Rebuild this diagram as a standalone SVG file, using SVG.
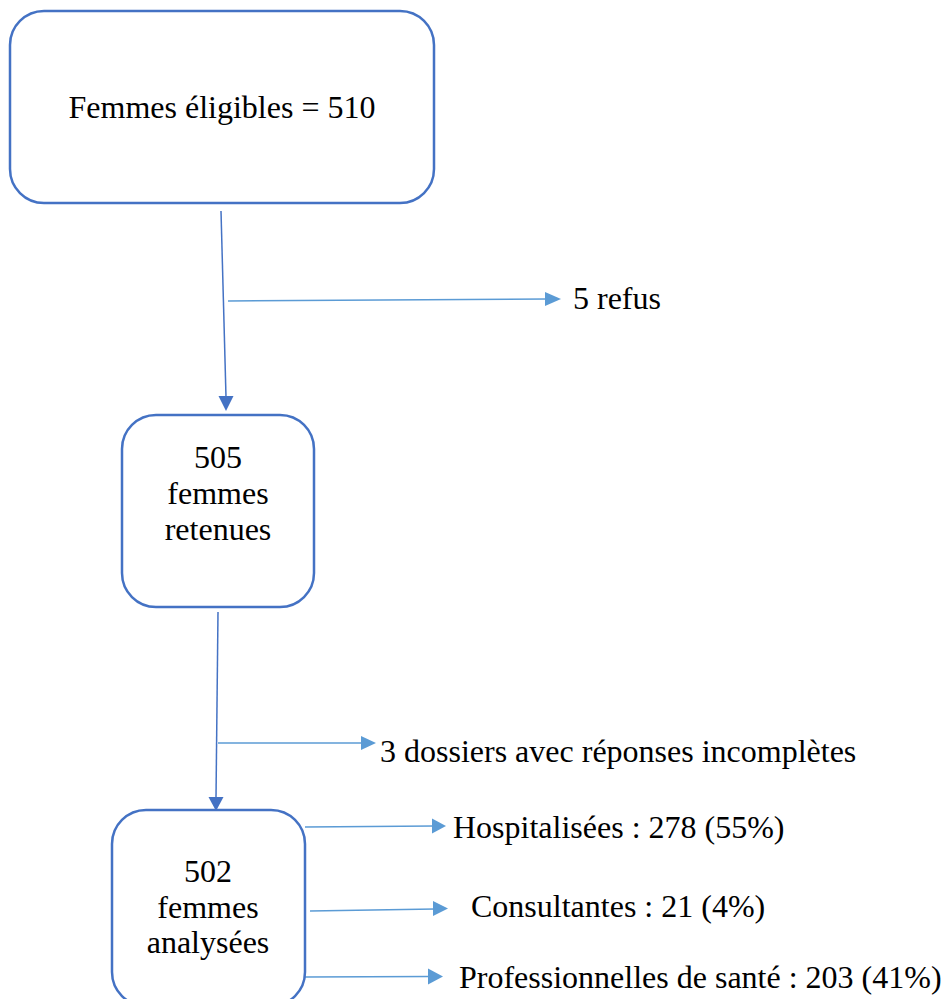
<svg xmlns="http://www.w3.org/2000/svg" width="947" height="999" viewBox="0 0 947 999">
  <style>
    .box { fill: #ffffff; stroke: #4472C4; stroke-width: 2.5; }
    .t { font-size: 32px; fill: #000000; }
    .c { text-anchor: middle; }
    .v { stroke: #4472C4; stroke-width: 1.5; fill: none; }
    .h { stroke: #5B9BD5; stroke-width: 1.5; fill: none; }
    .hv { fill: #4472C4; }
    .hh { fill: #5B9BD5; }
  </style>
  <rect width="947" height="999" fill="#ffffff"/>
  <g id="connectors">
    <line class="v" x1="221" y1="211" x2="226" y2="397"/>
    <polygon class="hv" points="218.5,396 233.5,396 226,411"/>
    <line class="h" x1="228" y1="301" x2="547" y2="299"/>
    <polygon class="hh" points="545,292 561,299 545,306"/>
    <line class="v" x1="218" y1="612" x2="216" y2="798"/>
    <polygon class="hv" points="208.5,797 223.5,797 216,811"/>
    <line class="h" x1="218" y1="743" x2="363" y2="743"/>
    <polygon class="hh" points="361,736 376,743 361,750"/>
    <line class="h" x1="305" y1="827" x2="434" y2="826"/>
    <polygon class="hh" points="432,818.5 446,826 432,833.5"/>
    <line class="h" x1="310" y1="911" x2="435" y2="909"/>
    <polygon class="hh" points="433,901 448,908.5 433,916"/>
    <line class="h" x1="305" y1="977" x2="430" y2="976.5"/>
    <polygon class="hh" points="428,968.5 443,976.5 428,984.5"/>
  </g>
  <g font-family="Liberation Serif, Times New Roman, serif">
  <g id="node-eligibles">
    <rect class="box" x="10" y="11" width="424" height="192" rx="34" ry="34"/>
    <text class="t c" x="222" y="118">Femmes éligibles = 510</text>
  </g>
  <g id="node-refus">
    <text class="t" x="573" y="309">5 refus</text>
  </g>
  <g id="node-retenues">
    <rect class="box" x="122" y="415" width="192" height="192" rx="34" ry="34"/>
    <text class="t c" x="218" y="468">505</text>
    <text class="t c" x="218" y="504">femmes</text>
    <text class="t c" x="218" y="540">retenues</text>
  </g>
  <g id="node-incompletes">
    <text class="t" x="380" y="762">3 dossiers avec réponses incomplètes</text>
  </g>
  <g id="node-analysees">
    <rect class="box" x="112" y="810" width="193" height="196" rx="34" ry="34"/>
    <text class="t c" x="208" y="882">502</text>
    <text class="t c" x="208" y="918">femmes</text>
    <text class="t c" x="208" y="953">analysées</text>
  </g>
  <g id="node-hospitalisees">
    <text class="t" x="453" y="838">Hospitalisées : 278 (55%)</text>
  </g>
  <g id="node-consultantes">
    <text class="t" x="471" y="917">Consultantes : 21 (4%)</text>
  </g>
  <g id="node-professionnelles">
    <text class="t" x="459" y="988">Professionnelles de santé : 203 (41%)</text>
  </g>
  </g>
</svg>
